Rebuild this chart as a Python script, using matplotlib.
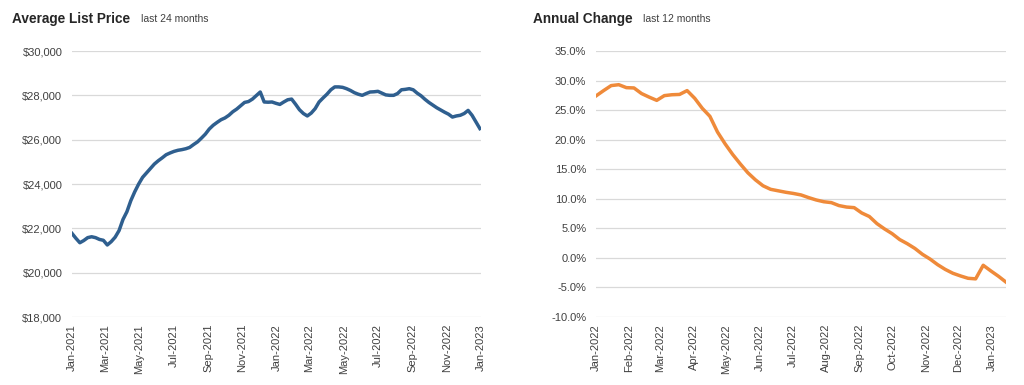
import numpy as np
import pandas as pd
import matplotlib
matplotlib.use("Agg")
import matplotlib.pyplot as plt
import matplotlib.dates as mdates
from matplotlib.ticker import FuncFormatter

plt.rcParams['font.family'] = ['Liberation Sans', 'DejaVu Sans']

# Data: weekly values
price_start = "2021-01-01"
price_values = [
    21770, 21550, 21350, 21450, 21580, 21620, 21580, 21500, 21460, 21250,
    21400, 21600, 21900, 22400, 22750, 23250, 23650, 24000, 24300, 24500,
    24700, 24900, 25050, 25180, 25320, 25400, 25470, 25520, 25550, 25590,
    25650, 25780, 25900, 26070, 26250, 26480, 26650, 26780, 26900, 26980,
    27100, 27260, 27380, 27530, 27680, 27720, 27830, 27990, 28150, 27700,
    27690, 27700, 27640, 27590, 27700, 27800, 27830, 27600, 27350, 27180,
    27070, 27200, 27400, 27700, 27880, 28050, 28250, 28380, 28380, 28360,
    28300, 28220, 28120, 28050, 28000, 28080, 28150, 28160, 28180, 28100,
    28020, 28000, 28000, 28080, 28250, 28270, 28300, 28250, 28100, 27980,
    27820, 27680, 27560, 27440, 27340, 27240, 27150, 27020, 27070, 27100,
    27180, 27320, 27100, 26800, 26500,
]

change_start = "2022-01-01"
change_values = [
    27.4, 28.3, 29.15, 29.3, 28.8, 28.75, 27.8, 27.2, 26.65, 27.45,
    27.6, 27.65, 28.3, 27.0, 25.3, 23.95, 21.3, 19.3, 17.5, 15.9,
    14.4, 13.2, 12.2, 11.6, 11.35, 11.1, 10.9, 10.65, 10.2, 9.8,
    9.5, 9.35, 8.85, 8.6, 8.5, 7.6, 7.0, 5.8, 4.9, 4.1,
    3.1, 2.4, 1.6, 0.6, -0.2, -1.15, -1.95, -2.6, -3.05, -3.45,
    -3.55, -1.25, -2.2, -3.1, -4.1,
]

price_dates = pd.date_range(price_start, periods=len(price_values), freq="7D")
change_dates = pd.date_range(change_start, periods=len(change_values), freq="7D")

grid_color = "#d9d9d9"
text_color = "#404040"


def style_axis(ax):
    for s in ax.spines.values():
        s.set_visible(False)
    ax.grid(True, axis='y', color=grid_color, linewidth=0.9)
    ax.set_axisbelow(True)
    ax.tick_params(axis='both', length=0, labelsize=8, colors=text_color)
    ax.tick_params(axis='y', pad=7)
    ax.tick_params(axis='x', pad=5)
    for lbl in ax.get_xticklabels():
        lbl.set_rotation(90)


fig = plt.figure(figsize=(10.24, 3.85), dpi=100)

# Left: average list price
ax1 = fig.add_axes([72/1024, 1-317/385, 409/1024, 266/385])
ax1.plot(price_dates, price_values, color="#2f5f8f", linewidth=2.5, solid_joinstyle='round')
ax1.set_ylim(18000, 30000)
ax1.set_yticks(np.arange(18000, 30001, 2000))
ax1.yaxis.set_major_formatter(FuncFormatter(lambda v, p: "${:,.0f}".format(v)))
ax1.set_xlim(pd.Timestamp("2021-01-01"), pd.Timestamp("2023-01-01"))
ax1.xaxis.set_major_locator(mdates.MonthLocator(bymonth=[1, 3, 5, 7, 9, 11]))
ax1.xaxis.set_major_formatter(mdates.DateFormatter("%b-%Y"))
style_axis(ax1)

# Right: annual change
ax2 = fig.add_axes([596/1024, 1-317/385, 410/1024, 266/385])
ax2.plot(change_dates, change_values, color="#ef8a3a", linewidth=2.5, solid_joinstyle='round')
ax2.set_ylim(-10, 35)
ax2.set_yticks(np.arange(-10, 35.1, 5))
ax2.yaxis.set_major_formatter(FuncFormatter(lambda v, p: "{:.1f}%".format(v)))
ax2.set_xlim(change_dates[0], change_dates[-1])
ax2.xaxis.set_major_locator(mdates.MonthLocator())
ax2.xaxis.set_major_formatter(mdates.DateFormatter("%b-%Y"))
style_axis(ax2)

# Titles
fig.text(12/1024, 1-19/385, "Average List Price", fontsize=9.8, fontweight='bold',
         color="#262626", va='center', ha='left')
fig.text(141/1024, 1-19/385, "last 24 months", fontsize=7.5, color=text_color,
         va='center', ha='left')
fig.text(533/1024, 1-19/385, "Annual Change", fontsize=9.8, fontweight='bold',
         color="#262626", va='center', ha='left')
fig.text(643/1024, 1-19/385, "last 12 months", fontsize=7.5, color=text_color,
         va='center', ha='left')

fig.savefig("out.png", dpi=100)
